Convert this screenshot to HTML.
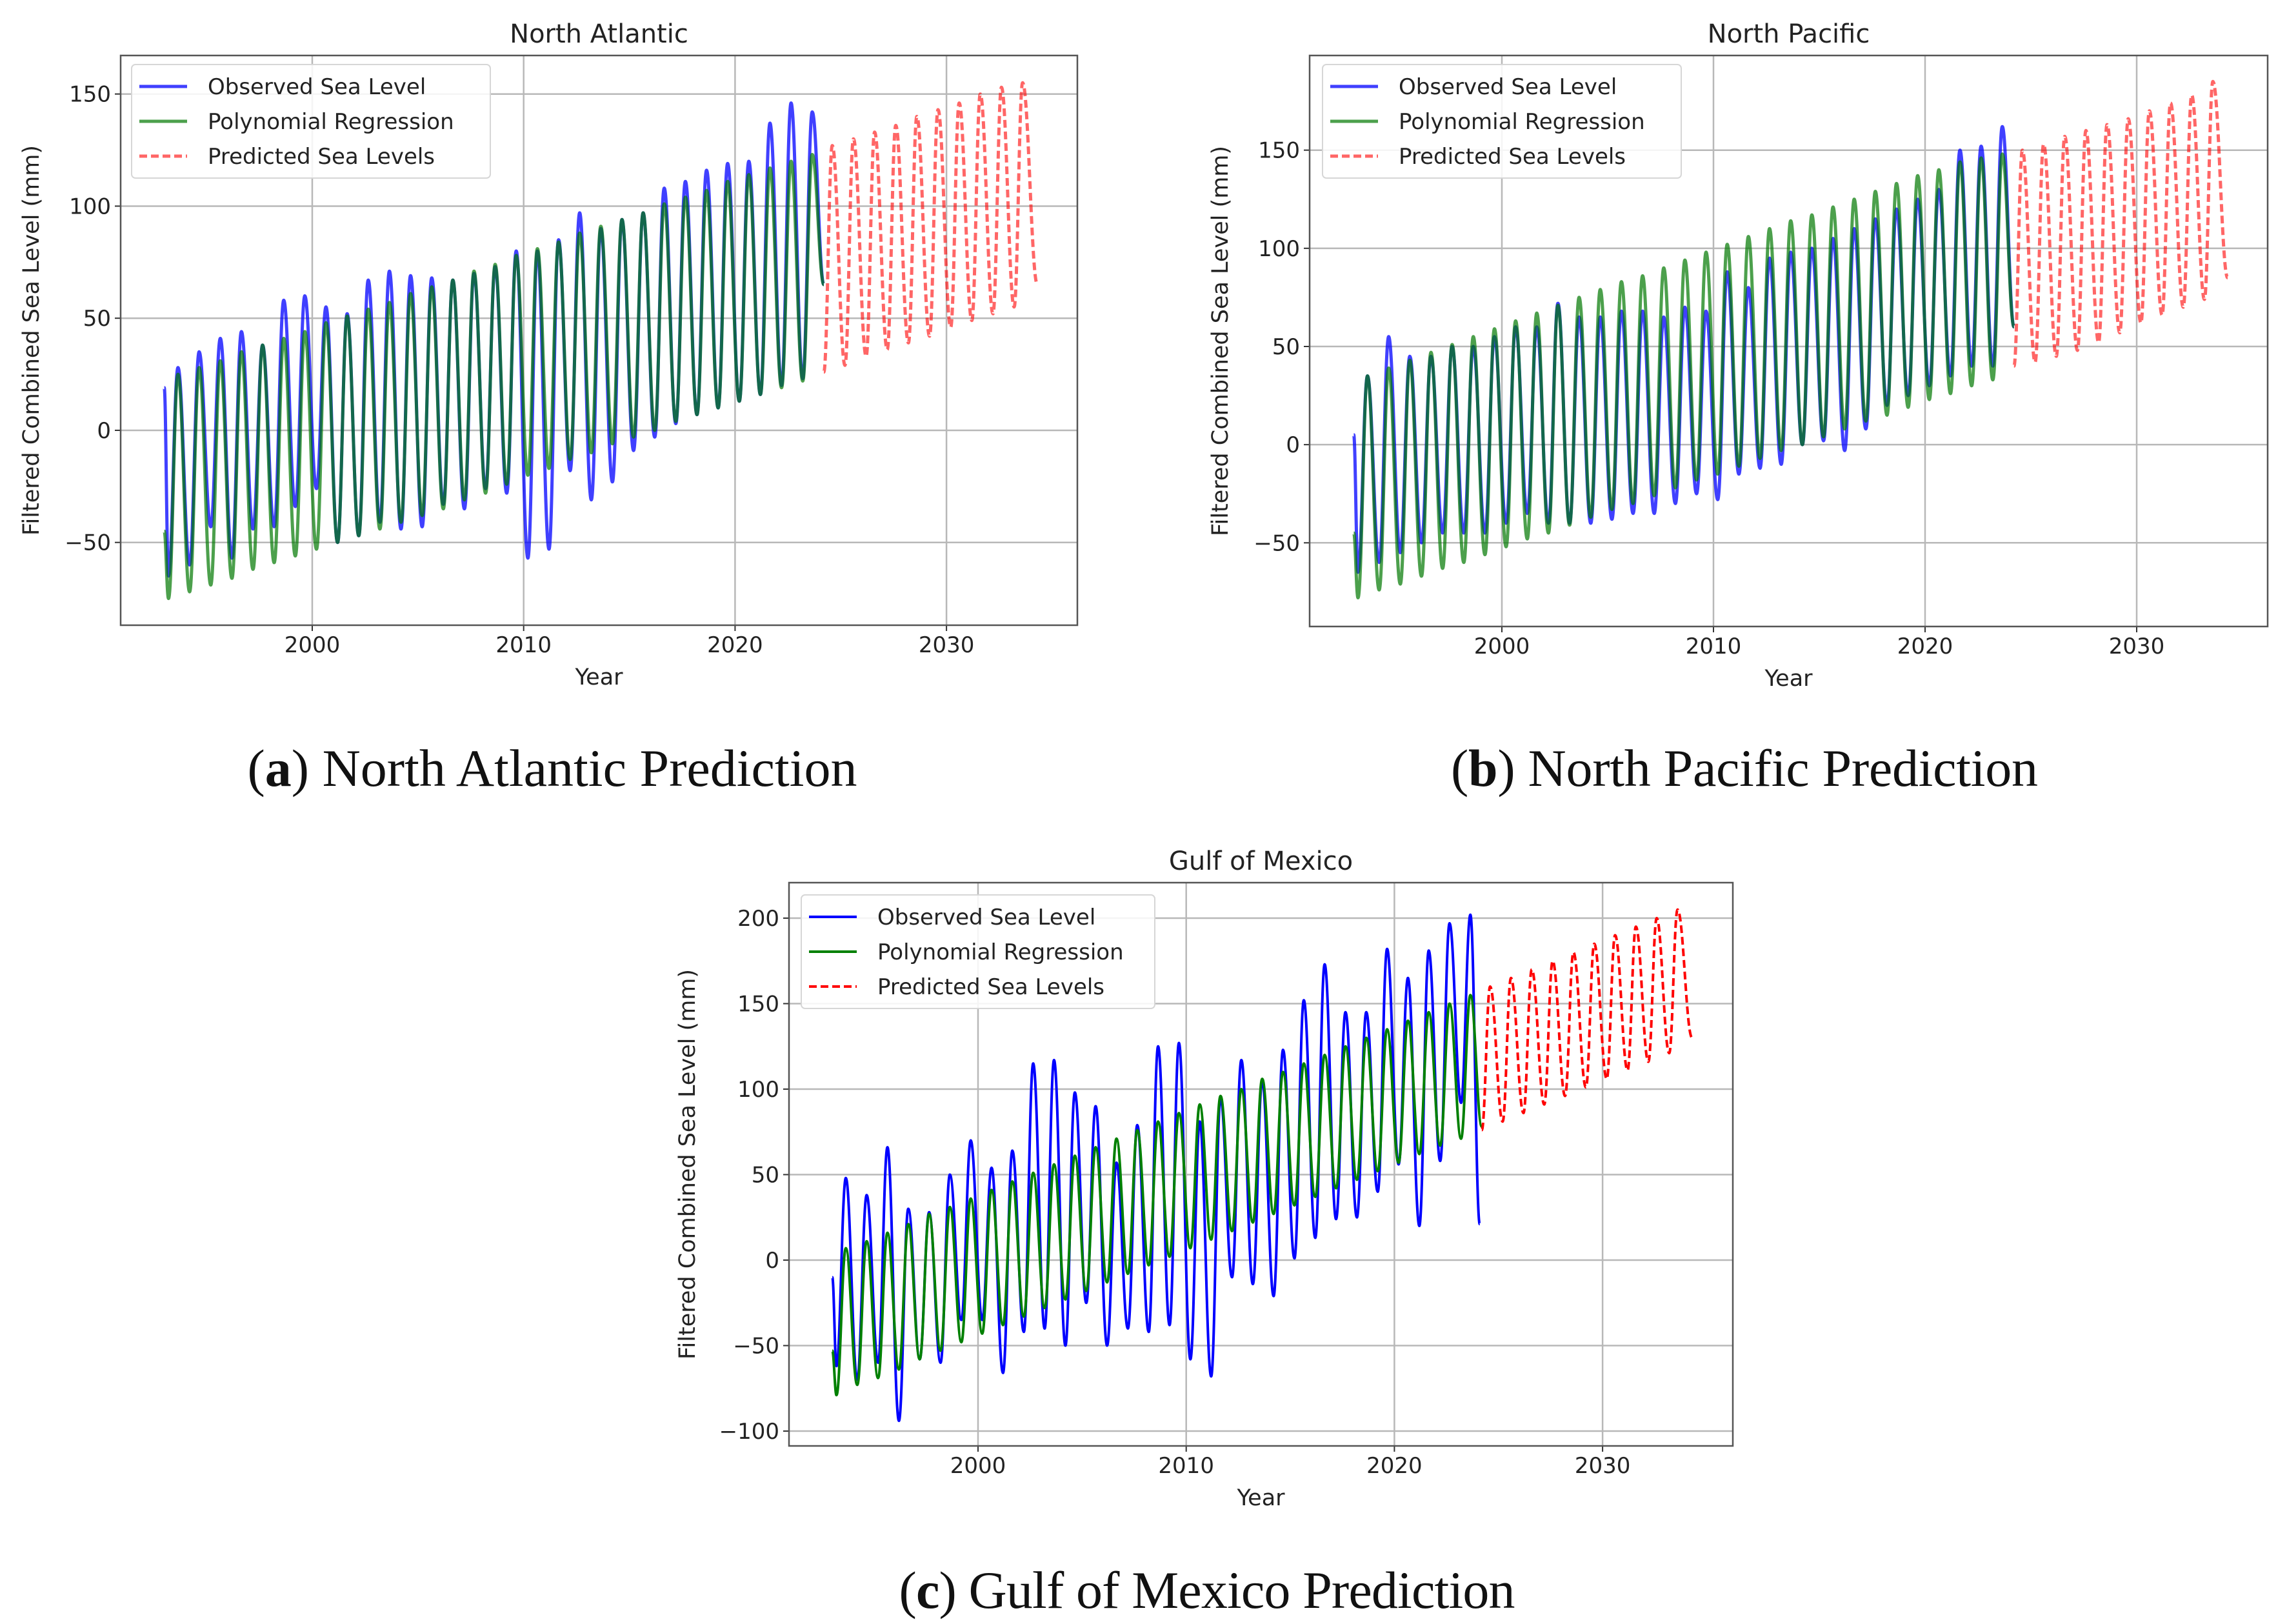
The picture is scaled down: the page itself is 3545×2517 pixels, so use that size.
<!DOCTYPE html>
<html><head><meta charset="utf-8">
<style>
html,body{margin:0;padding:0;background:#fff;}
svg{display:block;}
text{font-family:"DejaVu Sans","Liberation Sans",sans-serif;fill:#222;}
.cap{font-family:"Liberation Serif",serif;fill:#111;}
</style></head>
<body>
<svg id="fig" width="3545" height="2517" viewBox="0 0 3545 2517" xmlns="http://www.w3.org/2000/svg">
<rect width="3545" height="2517" fill="#fff"/>
<text class="cap" x="856" y="1218" font-size="82" text-anchor="middle" textLength="945">(<tspan font-weight="bold">a</tspan>) North Atlantic Prediction</text>
<text class="cap" x="2704" y="1218" font-size="82" text-anchor="middle" textLength="910">(<tspan font-weight="bold">b</tspan>) North Pacific Prediction</text>
<text class="cap" x="1871" y="2492" font-size="82" text-anchor="middle" textLength="955">(<tspan font-weight="bold">c</tspan>) Gulf of Mexico Prediction</text>
</svg>
<script>
// ---- data (peak / trough values per seasonal cycle) ----
const xTicks = [2000, 2010, 2020, 2030];
const yTicksAB = [-50, 0, 50, 100, 150];
const yTicksC = [-100, -50, 0, 50, 100, 150, 200];
const seriesNames = ["Observed Sea Level", "Polynomial Regression", "Predicted Sea Levels"];

// North Atlantic
const naObsStart = 19;
const naObsTroughs = [-65,-60,-43,-57,-44,-43,-34,-26,-50,-47,-41,-44,-43,-33,-35,-26,-28,-57,-53,-18,-31,-23,-9,-3,3,7,10,13,16,20,23];
const naObsPeaks = [28,35,41,44,38,58,60,55,52,67,71,69,68,67,70,73,80,80,85,97,90,94,97,108,111,116,119,120,137,146,142];
const naObsEnd = 65;
const naFitStart = -45;
const naFitTroughs = [-75,-72,-69,-66,-62,-59,-56,-53,-50,-47,-44,-41,-38,-35,-31,-28,-24,-20,-17,-13,-10,-6,-3,0,4,7,10,13,16,19,22];
const naFitPeaks = [25,28,31,35,38,41,44,48,51,54,57,61,64,67,71,74,78,81,84,88,91,94,97,101,104,107,111,114,117,120,123];
const naFitEnd = 65;
const naPredTroughs = [26,29,33,36,39,42,46,49,52,55];
const naPredPeaks = [127,130,133,136,140,143,146,150,153,155];
const naPredEnd = 65;

// North Pacific
const npObsStart = 5;
const npObsTroughs = [-65,-60,-55,-50,-45,-45,-45,-40,-35,-40,-40,-40,-38,-35,-35,-30,-25,-28,-15,-12,-10,0,2,-3,8,20,25,30,35,40,40];
const npObsPeaks = [35,55,45,45,50,50,55,60,60,72,65,65,68,68,65,70,68,88,80,95,98,100,105,110,115,120,125,130,150,152,162];
const npObsEnd = 60;
const npFitStart = -45;
const npFitTroughs = [-78,-74,-71,-67,-63,-60,-56,-52,-48,-45,-41,-37,-33,-30,-26,-22,-18,-15,-11,-7,-3,0,4,8,12,15,19,23,26,30,33];
const npFitPeaks = [35,39,43,47,51,55,59,63,67,71,75,79,83,86,90,94,98,102,106,110,114,117,121,125,129,133,137,140,144,146,148];
const npFitEnd = 60;
const npPredTroughs = [40,42,45,48,52,57,62,66,70,74];
const npPredPeaks = [150,153,157,160,163,166,170,174,178,185];
const npPredEnd = 85;

// Gulf of Mexico
const gmObsStart = -10;
const gmObsTroughs = [-62,-70,-60,-94,-58,-60,-35,-35,-66,-42,-40,-50,-25,-50,-40,-42,-38,-58,-68,-10,-14,-21,1,13,24,25,40,56,20,58,92];
const gmObsPeaks = [48,38,66,30,28,50,70,54,64,115,117,98,90,57,79,125,127,81,95,117,105,123,152,173,145,145,182,165,181,197,202];
const gmObsEnd = 21;
const gmFitStart = -53;
const gmFitTroughs = [-79,-73,-69,-64,-58,-53,-48,-43,-38,-33,-28,-23,-18,-13,-8,-3,2,7,12,17,22,27,32,37,42,47,52,57,62,67,71];
const gmFitPeaks = [7,11,16,21,27,31,36,41,46,51,56,61,66,71,76,81,86,91,96,100,106,110,115,120,125,130,135,140,145,150,155];
const gmFitEnd = 78;
const gmPredTroughs = [76,81,86,91,96,101,106,111,116,121];
const gmPredPeaks = [160,165,170,175,180,185,190,195,200,205];
const gmPredEnd = 130;

const NS = "http://www.w3.org/2000/svg";
const fig = document.getElementById('fig');
function mk(tag, attrs, parent){
  const e = document.createElementNS(NS, tag);
  for (const k in attrs) e.setAttribute(k, attrs[k]);
  (parent||fig).appendChild(e);
  return e;
}
function seq(t0, startV, troughs, peaks, startYear, endT, endV){
  const pts = [[t0, startV]];
  for (let i=0;i<troughs.length;i++){
    pts.push([startYear+i+0.2, troughs[i]]);
    if (i<peaks.length) pts.push([startYear+i+0.65, peaks[i]]);
  }
  pts.push([endT, endV]);
  return pts;
}
function predSeq(troughs, peaks, endV){
  const pts=[];
  for(let i=0;i<troughs.length;i++){
    pts.push([2024.2+i, troughs[i]]);
    pts.push([2024.6+i, peaks[i]]);
  }
  pts.push([2034.3,endV]);
  return pts;
}
function pathFrom(pts, X, Y){
  let d = 'M'+X(pts[0][0]).toFixed(1)+','+Y(pts[0][1]).toFixed(1);
  for (let i=1;i<pts.length;i++){
    const x0=X(pts[i-1][0]), y0=Y(pts[i-1][1]), x1=X(pts[i][0]), y1=Y(pts[i][1]);
    const dx=(x1-x0)*0.4;
    d += ' C'+(x0+dx).toFixed(1)+','+y0.toFixed(1)+' '+(x1-dx).toFixed(1)+','+y1.toFixed(1)+' '+x1.toFixed(1)+','+y1.toFixed(1);
  }
  return d;
}

function chart(cfg){
  const g = mk('g', {});
  
  
  const X = t => cfg.px0 + (t - cfg.xRef) * cfg.pxPerYear;
  const Y = v => cfg.py0 - (v - cfg.yRef) * cfg.pxPerUnit;
  const L=cfg.left, R=cfg.right, T=cfg.top, B=cfg.bottom;
  xTicks.forEach(t=>{
    const gl = mk('line',{x1:X(t),x2:X(t),y1:T,y2:B,stroke:'#b8b8b8','stroke-width':2.5},g);
    
    
    mk('line',{x1:X(t),x2:X(t),y1:B,y2:B+9,stroke:'#333','stroke-width':2},g);
    const tx = mk('text',{x:X(t),y:B+42,'font-size':34,'text-anchor':'middle'},g);
    tx.textContent = t;
    
    
  });
  cfg.yTicks.forEach(v=>{
    const gl = mk('line',{x1:L,x2:R,y1:Y(v),y2:Y(v),stroke:'#b8b8b8','stroke-width':2.5},g);
    
    
    mk('line',{x1:L-9,x2:L,y1:Y(v),y2:Y(v),stroke:'#333','stroke-width':2},g);
    const tx = mk('text',{x:L-15,y:Y(v)+12,'font-size':34,'text-anchor':'end'},g);
    tx.textContent = v<0 ? '\u2212'+Math.abs(v) : v;
    
    
  });
  const clip = 'clip-'+cfg.name;
  const cp = mk('clipPath',{id:clip},g);
  mk('rect',{x:L,y:T,width:R-L,height:B-T},cp);
  const sg = mk('g',{'clip-path':'url(#'+clip+')'},g);
  const obs = mk('path',{d:pathFrom(cfg.obs,X,Y),fill:'none',stroke:cfg.obsColor,'stroke-width':cfg.sw,'stroke-linejoin':'round'},sg);
  
  
  const fit = mk('path',{d:pathFrom(cfg.fit,X,Y),fill:'none',stroke:cfg.fitColor,'stroke-width':cfg.sw,'stroke-linejoin':'round'},sg);
  
  
  const pr = mk('path',{d:pathFrom(cfg.pred,X,Y),fill:'none',stroke:cfg.predColor,'stroke-width':cfg.sw,'stroke-dasharray':'12,6'},sg);
  
  
  const fr = mk('rect',{x:L,y:T,width:R-L,height:B-T,fill:'none',stroke:'#555','stroke-width':2.5},g);
  
  
  const ti = mk('text',{x:(L+R)/2,y:T-20,'font-size':40,'text-anchor':'middle'},g);
  ti.textContent = cfg.title;
  
  
  const xl = mk('text',{x:(L+R)/2,y:B+92,'font-size':35,'text-anchor':'middle'},g);
  xl.textContent = 'Year';
  
  
  const yl = mk('text',{x:0,y:0,'font-size':35,'text-anchor':'middle',transform:'translate('+cfg.ylabX+','+((T+B)/2)+') rotate(-90)'},g);
  yl.textContent = 'Filtered Combined Sea Level (mm)';
  
  
  const lx=cfg.legX, ly=cfg.legY;
  const lg = mk('g',{},g);
  
  
  mk('rect',{x:lx,y:ly,width:cfg.legW,height:176,rx:6,fill:'#fff','fill-opacity':0.85,stroke:'#d6d6d6','stroke-width':2},lg);
  const cols=[cfg.obsColor,cfg.fitColor,cfg.predColor];
  seriesNames.forEach((n,i)=>{
    const yy = ly+34+i*54;
    const ln = mk('line',{x1:lx+12,x2:lx+86,y1:yy,y2:yy,stroke:cols[i],'stroke-width':cfg.sw},lg);
    if(i===2) ln.setAttribute('stroke-dasharray','12,6');
    const tx = mk('text',{x:lx+118,y:yy+12,'font-size':34},lg);
    tx.textContent = n;
    
    
  });
}

chart({name:'north-atlantic-chart', title:'North Atlantic',
  left:187,right:1670,top:86,bottom:969,
  px0:484,xRef:2000,pxPerYear:32.77, py0:840.7,yRef:-50,pxPerUnit:3.475,
  yTicks:yTicksAB, ylabX:60, legX:204,legY:100,legW:556, sw:5,
  obsColor:'rgba(0,0,255,0.75)', fitColor:'rgba(0,120,0,0.7)', predColor:'rgba(255,0,0,0.6)',
  obs:seq(1993.0,naObsStart,naObsTroughs,naObsPeaks,1993,2024.2,naObsEnd),
  fit:seq(1993.0,naFitStart,naFitTroughs,naFitPeaks,1993,2024.2,naFitEnd),
  pred:predSeq(naPredTroughs,naPredPeaks,naPredEnd)
});
chart({name:'north-pacific-chart', title:'North Pacific',
  left:2030,right:3515,top:86,bottom:971,
  px0:2328,xRef:2000,pxPerYear:32.8, py0:841.3,yRef:-50,pxPerUnit:3.043,
  yTicks:yTicksAB, ylabX:1903, legX:2050,legY:100,legW:556, sw:5,
  obsColor:'rgba(0,0,255,0.75)', fitColor:'rgba(0,120,0,0.7)', predColor:'rgba(255,0,0,0.6)',
  obs:seq(1993.0,npObsStart,npObsTroughs,npObsPeaks,1993,2024.2,npObsEnd),
  fit:seq(1993.0,npFitStart,npFitTroughs,npFitPeaks,1993,2024.2,npFitEnd),
  pred:predSeq(npPredTroughs,npPredPeaks,npPredEnd)
});
chart({name:'gulf-of-mexico-chart', title:'Gulf of Mexico',
  left:1223,right:2686,top:1368,bottom:2241,
  px0:1516,xRef:2000,pxPerYear:32.27, py0:2218,yRef:-100,pxPerUnit:2.65,
  yTicks:yTicksC, ylabX:1077, legX:1242,legY:1387,legW:548, sw:4,
  obsColor:'#0000ff', fitColor:'#008000', predColor:'#ff0000',
  obs:seq(1993.0,gmObsStart,gmObsTroughs,gmObsPeaks,1993,2024.1,gmObsEnd),
  fit:seq(1993.0,gmFitStart,gmFitTroughs,gmFitPeaks,1993,2024.2,gmFitEnd),
  pred:predSeq(gmPredTroughs,gmPredPeaks,gmPredEnd)
});
</script>
</body></html>
